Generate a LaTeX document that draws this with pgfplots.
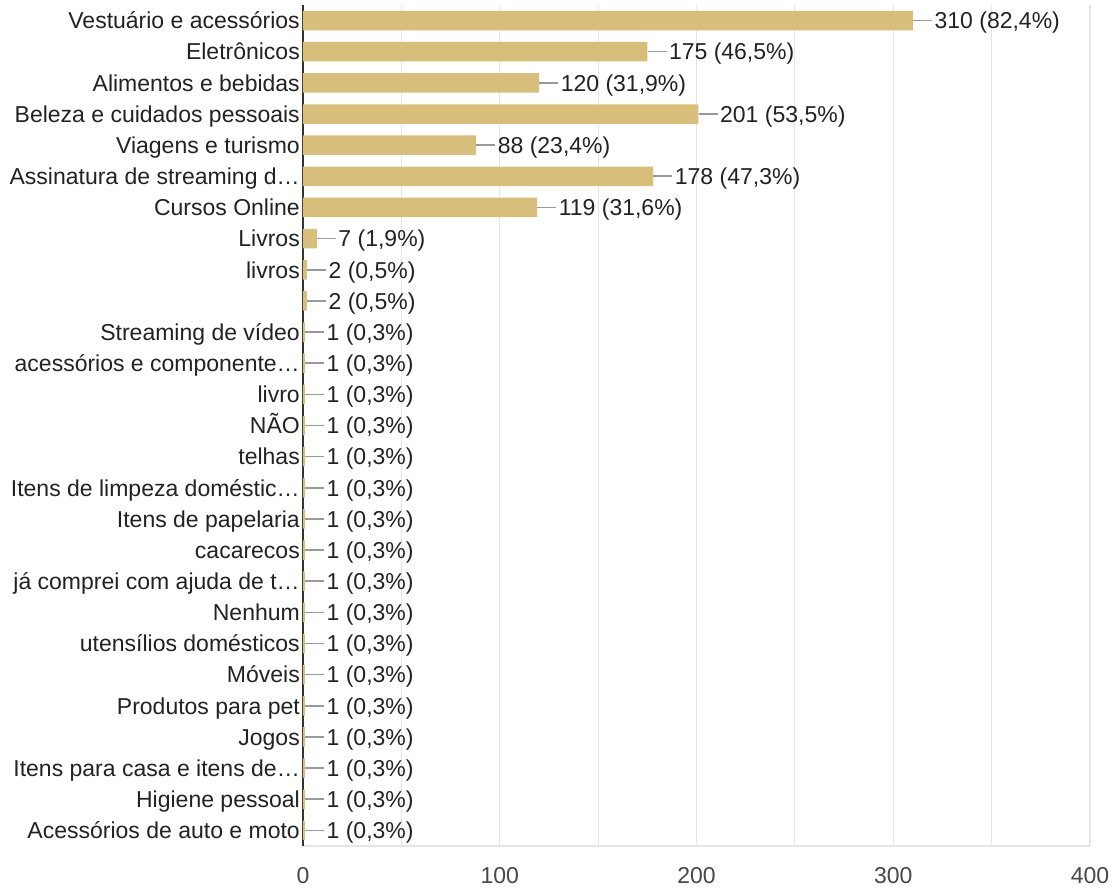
\documentclass[border=0pt]{standalone}
\usepackage{pgfplots}
\usepackage{pgfplotstable}
\pgfplotsset{compat=1.18}
\usepackage{fontspec}
\setmainfont{Liberation Sans}
\definecolor{barcol}{HTML}{D8BE7B}
\definecolor{gridcol}{HTML}{E6E6E6}
\definecolor{leadcol}{HTML}{999999}
\definecolor{txt}{HTML}{222222}
\definecolor{axcol}{HTML}{333333}
\pgfplotstableread[col sep=semicolon]{
y;x;lab
0;310;310 (82,4\%)
1;175;175 (46,5\%)
2;120;120 (31,9\%)
3;201;201 (53,5\%)
4;88;88 (23,4\%)
5;178;178 (47,3\%)
6;119;119 (31,6\%)
7;7;7 (1,9\%)
8;2;2 (0,5\%)
9;2;2 (0,5\%)
10;1;1 (0,3\%)
11;1;1 (0,3\%)
12;1;1 (0,3\%)
13;1;1 (0,3\%)
14;1;1 (0,3\%)
15;1;1 (0,3\%)
16;1;1 (0,3\%)
17;1;1 (0,3\%)
18;1;1 (0,3\%)
19;1;1 (0,3\%)
20;1;1 (0,3\%)
21;1;1 (0,3\%)
22;1;1 (0,3\%)
23;1;1 (0,3\%)
24;1;1 (0,3\%)
25;1;1 (0,3\%)
26;1;1 (0,3\%)
}\datatable
\begin{document}
\begin{tikzpicture}
\path[use as bounding box] (-303pt,-44pt) rectangle (812pt,846pt);
\begin{axis}[
  at={(0pt,0pt)}, anchor=south west,
  scale only axis, width=787pt, height=841pt,
  xbar, bar width=19.5pt, bar shift=0pt,
  xmin=0, xmax=400, ymin=-0.5, ymax=26.5,
  y dir=reverse,
  xtick={0,100,200,300,400},
  minor xtick={50,150,250,350},
  xmajorgrids, xminorgrids,
  major grid style={draw=gridcol, line width=1.2pt},
  minor grid style={draw=gridcol, line width=1.2pt},
  ytick={0,...,26},
  yticklabels={Vestuário e acessórios, Eletrônicos, Alimentos e bebidas, Beleza e cuidados pessoais, Viagens e turismo, Assinatura de streaming d…, Cursos Online, Livros, livros, {}, Streaming de vídeo, acessórios e componente…, livro, NÃO, telhas, Itens de limpeza doméstic…, Itens de papelaria, cacarecos, já comprei com ajuda de t…, Nenhum, utensílios domésticos, Móveis, Produtos para pet, Jogos, Itens para casa e itens de…, Higiene pessoal, Acessórios de auto e moto},
  major tick length=0pt, minor tick length=0pt,
  axis x line*=bottom, axis y line*=left,
  x axis line style={draw=gridcol, line width=1.2pt, -},
  y axis line style={draw=axcol, line width=1.5pt, -},
  /pgf/number format/assume math mode=true,
  ticklabel style={font=\fontsize{23}{27}\selectfont, text=txt},
  xticklabel style={yshift=-18pt, text=black!72},
  yticklabel style={inner sep=0pt, xshift=-3pt, text height=16.5pt, text depth=0pt},
  point meta=explicit symbolic,
  nodes near coords={\textcolor{leadcol}{\rule[0.325em]{19pt}{1.6pt}}\hspace{2.5pt}\pgfplotspointmeta},
  every node near coord/.append style={anchor=west, inner sep=0pt, text height=16.5pt, text depth=0pt, font=\fontsize{23}{27}\selectfont, text=txt},
]
\addplot[fill=barcol, draw=none] table[x=x, y=y, meta=lab] {\datatable};
\end{axis}
\end{tikzpicture}
\end{document}
